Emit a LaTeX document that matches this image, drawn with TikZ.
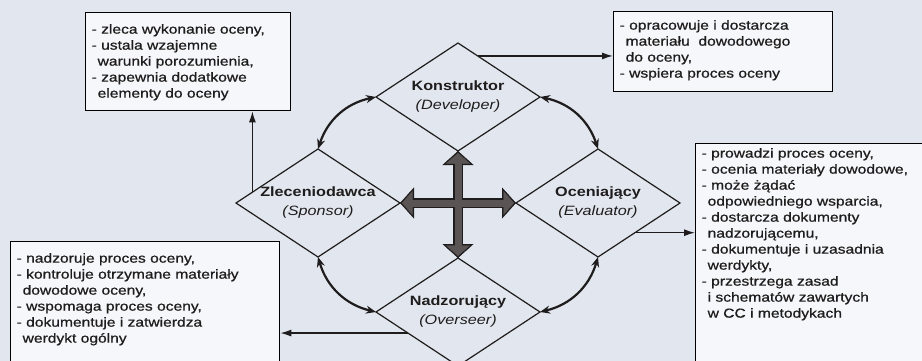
\documentclass[tikz,border=0pt]{standalone}
\usepackage{fontspec}
\setmainfont{Liberation Sans}[FakeStretch=1.2]
\newfontfamily\zadfamily{Liberation Sans}[FakeStretch=1.2, FakeBold=0.7]
\usepackage{tikz}
\usetikzlibrary{positioning, arrows.meta, shapes.geometric, calc}
\definecolor{tlo}{RGB}{226,231,239}
\definecolor{kartka}{RGB}{246,247,250}
\definecolor{ramka}{RGB}{30,28,28}
\definecolor{krzyzsz}{RGB}{90,84,84}
\def\wc{\hspace*{6pt}}
\def\zadfont{\zadfamily\fontsize{13}{16}\selectfont}

\begin{document}
\begin{tikzpicture}[x=1pt, y=1pt,
    rola/.style={draw=ramka, diamond, line width=1.2pt, minimum width=164pt, minimum height=108pt, inner sep=0pt, outer sep=0pt},
    opis/.style={align=center, text=ramka, font=\fontsize{13.5}{19}\selectfont},
    zadania/.style={draw=black, line width=1.3pt, fill=kartka, anchor=north west, align=left, text=ramka, font=\zadfont, inner xsep=6pt, inner ysep=4pt},
    wiez/.style={line width=2.2pt, ramka, {Stealth[length=10pt,width=8pt]}-{Stealth[length=10pt,width=8pt]}},
    strzalka/.style={line width=1.3pt, ramka, -{Latex[length=11pt,width=7pt]}},
    krzyzobrys/.style={line width=10pt, ramka, {Triangle[length=14pt,width=31pt,line width=0.4pt]}-{Triangle[length=14pt,width=31pt,line width=0.4pt]}},
    krzyzwnetrze/.style={line width=7pt, krzyzsz, shorten <=2pt, shorten >=2pt, {Triangle[length=10.5pt,width=24pt,line width=0.4pt]}-{Triangle[length=10.5pt,width=24pt,line width=0.4pt]}}]

    \useasboundingbox (0,0) rectangle (922,-361);
    \fill[tlo] (0,0) rectangle (922,-361);

    % cztery role
    \node[rola] (K) at (458,-97) {};
    \node[rola] (Z) at (318,-203) {};
    \node[rola] (O) at (598,-203) {};
    \node[rola] (N) at (458,-312) {};
    \node[opis] (tK) at (K) {\textbf{Konstruktor}\\\textit{(Developer)}};
    \node[opis] (tZ) at (Z) {\textbf{Zleceniodawca}\\\textit{(Sponsor)}};
    \node[opis] (tO) at (O) {\textbf{Oceniający}\\\textit{(Evaluator)}};
    \node[opis] (tN) at (N) {\textbf{Nadzorujący}\\\textit{(Overseer)}};

    % zadania
    \node[zadania, text width=193pt, text height=17pt, text depth=73pt] (bZ) at (85,-12)
        {- zleca wykonanie oceny,\\- ustala wzajemne\\\wc warunki porozumienia,\\- zapewnia dodatkowe\\\wc elementy do oceny};
    \node[zadania, text width=207pt, text height=14pt, text depth=58pt] (bK) at (613,-11)
        {- opracowuje i dostarcza\\\wc materiału\ \ dowodowego\\\wc do oceny,\\- wspiera proces oceny};
    \node[zadania, text width=235pt, text height=10pt, text depth=214pt] (bO) at (695,-143)
        {- prowadzi proces oceny,\\- ocenia materiały dowodowe,\\- może żądać\\\wc odpowiedniego wsparcia,\\- dostarcza dokumenty\\\wc nadzorującemu,\\- dokumentuje i uzasadnia\\\wc werdykty,\\- przestrzega zasad\\\wc i schematów zawartych\\\wc w CC i metodykach};
    \node[zadania, text width=257pt, text height=17pt, text depth=114pt] (bN) at (10,-241)
        {- nadzoruje proces oceny,\\- kontroluje otrzymane materiały\\\wc dowodowe oceny,\\- wspomaga proces oceny,\\- dokumentuje i zatwierdza\\\wc werdykt ogólny};

    % krzyz w srodku
    \draw[krzyzobrys] (K.south) -- (N.north);
    \draw[krzyzobrys] (Z.east) -- (O.west);
    \draw[krzyzwnetrze] (K.south) -- (N.north);
    \draw[krzyzwnetrze] (Z.east) -- (O.west);

    % powiazania miedzy rolami
    \draw[wiez] (K.west) to[bend right=30] (Z.north);
    \draw[wiez] (K.east) to[bend left=30] (O.north);
    \draw[wiez] (Z.south) to[bend right=30] (N.west);
    \draw[wiez] (O.south) to[bend left=30] (N.east);

    % strzalki do zadan
    \coordinate (zp) at ($(Z.west)!0.2!(Z.north)$);
    \coordinate (kp) at ($(K.north)!0.24!(K.east)$);
    \coordinate (op) at ($(O.east)!0.55!(O.south)$);
    \coordinate (np) at ($(N.west)!0.39!(N.south)$);
    \draw[strzalka] (zp) -- (zp |- bZ.south);
    \draw[strzalka] (kp) -- (kp -| bK.west);
    \draw[strzalka] (op) -- (op -| bO.west);
    \draw[strzalka] (np) -- (np -| bN.east);
\end{tikzpicture}
\end{document}
